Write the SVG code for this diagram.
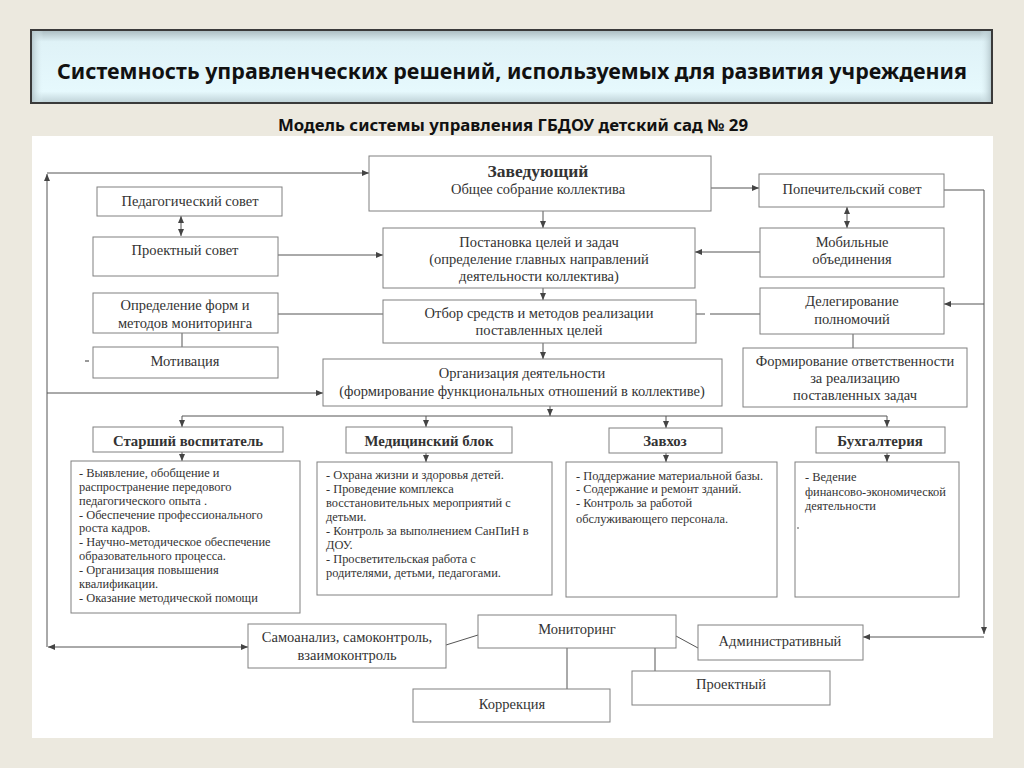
<svg xmlns="http://www.w3.org/2000/svg" width="1024" height="768" viewBox="0 0 1024 768">
<defs>
<marker id="ah" markerUnits="userSpaceOnUse" markerWidth="8" markerHeight="7" refX="7" refY="3" orient="auto-start-reverse"><path d="M0,0 L7,3 L0,6 z" fill="#444"/></marker>
<linearGradient id="bv" x1="0" y1="0" x2="0" y2="1"><stop offset="0" stop-color="#aebfc4"/><stop offset="0.15" stop-color="#dff2f7"/><stop offset="0.85" stop-color="#e6f9fd"/><stop offset="1" stop-color="#c2d5da"/></linearGradient>
<linearGradient id="bh" x1="0" y1="0" x2="1" y2="0"><stop offset="0" stop-color="#b4c6cb" stop-opacity="0.9"/><stop offset="0.012" stop-color="#e6f9fd" stop-opacity="0"/><stop offset="0.988" stop-color="#e6f9fd" stop-opacity="0"/><stop offset="1" stop-color="#b4c6cb" stop-opacity="0.9"/></linearGradient>
<style>
.b{fill:#fff;stroke:#808080;stroke-width:1}
.t{font-family:"Liberation Serif","Times New Roman",serif;font-size:14.5px;fill:#333;text-anchor:middle}
.tb{font-family:"Liberation Serif","Times New Roman",serif;font-size:14.8px;font-weight:bold;fill:#333;text-anchor:middle}
.c{font-family:"Liberation Serif","Times New Roman",serif;font-size:12.4px;fill:#333}
.l{fill:none;stroke:#555;stroke-width:1}
.a{fill:none;stroke:#555;stroke-width:1;marker-end:url(#ah)}
.d{fill:none;stroke:#555;stroke-width:1;marker-start:url(#ah);marker-end:url(#ah)}
</style>
</defs>
<rect width="1024" height="768" fill="#ece9df"/>
<g id="title">
<rect x="30" y="29" width="963" height="75" fill="#3a3a3a"/>
<rect x="32" y="31" width="959" height="71" fill="url(#bv)"/>
<rect x="32" y="31" width="959" height="71" fill="url(#bh)"/>
<text x="512" y="79" font-family="'Noto Sans','Open Sans',sans-serif" font-size="21" font-weight="bold" fill="#111" text-anchor="middle" textLength="910" lengthAdjust="spacingAndGlyphs">Системность управленческих решений, используемых  для развития учреждения</text>
</g>
<text id="subtitle" x="513" y="131" font-family="'Noto Sans','Open Sans',sans-serif" font-size="16" font-weight="bold" fill="#111" text-anchor="middle" textLength="470" lengthAdjust="spacingAndGlyphs">Модель системы управления ГБДОУ детский сад № 29</text>
<rect x="32" y="136" width="961" height="602" fill="#fff"/>

<g id="connectors">
<path class="a" d="M47,647 V174"/>
<path class="a" d="M47,173 H369"/>
<path class="a" d="M47,393 H323"/>
<path class="d" d="M48,647 H248"/>
<path class="a" d="M711,188 H759"/>
<path class="a" d="M944,190 H984 V634"/>
<path class="a" d="M984,637 H863"/>
<path class="a" d="M984,304 H944"/>
<path class="d" d="M181,216 V236"/>
<path class="d" d="M847,207 V228"/>
<path class="a" d="M278,255 H383"/>
<path class="a" d="M760,252 H695"/>
<path class="l" d="M278,314 H383"/>
<path class="l" d="M696,314 H705 M710,314 H760"/>
<path class="l" d="M182,333 V347"/>
<path class="l" d="M853,334 V348"/>
<path class="a" d="M543,211 V228"/>
<path class="a" d="M543,288 V300"/>
<path class="a" d="M543,343 V359"/>
<path class="a" d="M550,406 V416"/>
<path class="l" d="M182,416 H887"/>
<path class="a" d="M182,416 V427"/>
<path class="a" d="M426,416 V427"/>
<path class="a" d="M666,416 V428"/>
<path class="a" d="M887,416 V427"/>
<path class="a" d="M182,452 V461"/>
<path class="a" d="M426,453 V462"/>
<path class="a" d="M666,453 V462"/>
<path class="a" d="M887,453 V462"/>
<path class="l" d="M446,645 L478,635"/>
<path class="l" d="M676,636 L698,648"/>
<path class="l" d="M567,648 V689"/>
<path class="l" d="M655,648 V671"/>
</g>

<g id="zav"><rect class="b" x="369" y="156" width="342" height="55"/>
<text class="tb" x="538" y="177" style="font-size:17.5px">Заведующий</text>
<text class="t" x="538" y="194">Общее собрание коллектива</text></g>

<g id="pedsovet"><rect class="b" x="97" y="187" width="185" height="29"/>
<text class="t" x="190" y="206">Педагогический совет</text></g>

<g id="proektsovet"><rect class="b" x="93" y="237" width="185" height="39"/>
<text class="t" x="185" y="255">Проектный совет</text></g>

<g id="postanovka"><rect class="b" x="383" y="228" width="312" height="60"/>
<text class="t" x="539" y="247">Постановка целей и задач</text>
<text class="t" x="539" y="264">(определение главных направлений</text>
<text class="t" x="539" y="281">деятельности коллектива)</text></g>

<g id="otbor"><rect class="b" x="383" y="300" width="313" height="43"/>
<text class="t" x="539" y="318">Отбор средств и методов реализации</text>
<text class="t" x="539" y="335">поставленных целей</text></g>

<g id="opredelenie"><rect class="b" x="93" y="293" width="185" height="40"/>
<text class="t" x="185" y="310">Определение форм и</text>
<text class="t" x="185" y="328">методов мониторинга</text></g>

<g id="motivaciya"><rect class="b" x="93" y="347" width="185" height="31"/>
<text class="t" x="185" y="366">Мотивация</text>
<rect x="85" y="360" width="4" height="2" fill="#999"/></g>

<g id="organizaciya"><rect class="b" x="323" y="359" width="399" height="47"/>
<text class="t" x="522" y="378">Организация деятельности</text>
<text class="t" x="522" y="396">(формирование функциональных отношений в коллективе)</text></g>

<g id="popechit"><rect class="b" x="759" y="174" width="185" height="33"/>
<text class="t" x="852" y="194">Попечительский  совет</text></g>

<g id="mobilnye"><rect class="b" x="760" y="228" width="184" height="49"/>
<text class="t" x="852" y="247">Мобильные</text>
<text class="t" x="852" y="264">объединения</text></g>

<g id="delegirovanie"><rect class="b" x="760" y="288" width="184" height="46"/>
<text class="t" x="852" y="306">Делегирование</text>
<text class="t" x="852" y="324">полномочий</text></g>

<g id="formirovanie"><rect class="b" x="743" y="348" width="224" height="59"/>
<text class="t" x="855" y="366">Формирование ответственности</text>
<text class="t" x="855" y="383">за реализацию</text>
<text class="t" x="855" y="400">поставленных задач</text></g>

<g id="starshiy"><rect class="b" x="93" y="427" width="190" height="25"/>
<text class="tb" x="188" y="446">Старший воспитатель</text>
<rect class="b" x="71" y="461" width="229" height="152"/>
<text class="c" x="79" y="477">- Выявление, обобщение и</text>
<text class="c" x="79" y="491">распространение передового</text>
<text class="c" x="79" y="505">педагогического опыта .</text>
<text class="c" x="79" y="519">- Обеспечение профессионального</text>
<text class="c" x="79" y="532">роста кадров.</text>
<text class="c" x="79" y="546">- Научно-методическое обеспечение</text>
<text class="c" x="79" y="560">образовательного процесса.</text>
<text class="c" x="79" y="574">- Организация повышения</text>
<text class="c" x="79" y="588">квалификации.</text>
<text class="c" x="79" y="602">- Оказание методической помощи</text></g>

<g id="med"><rect class="b" x="346" y="427" width="166" height="26"/>
<text class="tb" x="429" y="446">Медицинский блок</text>
<rect class="b" x="317" y="462" width="235" height="133"/>
<text class="c" x="326" y="479">- Охрана жизни и здоровья детей.</text>
<text class="c" x="326" y="493">- Проведение комплекса</text>
<text class="c" x="326" y="507">восстановительных мероприятий с</text>
<text class="c" x="326" y="521">детьми.</text>
<text class="c" x="326" y="535">- Контроль за выполнением СанПиН в</text>
<text class="c" x="326" y="549">ДОУ.</text>
<text class="c" x="326" y="563">- Просветительская работа с</text>
<text class="c" x="326" y="577">родителями, детьми, педагогами.</text></g>

<g id="zavhoz"><rect class="b" x="609" y="428" width="113" height="25"/>
<text class="tb" x="665" y="446">Завхоз</text>
<rect class="b" x="566" y="462" width="211" height="135"/>
<text class="c" x="576" y="480">- Поддержание материальной базы.</text>
<text class="c" x="576" y="493">- Содержание и ремонт зданий.</text>
<text class="c" x="576" y="507">- Контроль  за работой</text>
<text class="c" x="576" y="523">обслуживающего персонала.</text></g>

<g id="buh"><rect class="b" x="816" y="427" width="129" height="26"/>
<text class="tb" x="880" y="446">Бухгалтерия</text>
<rect class="b" x="795" y="462" width="164" height="135"/>
<text class="c" x="805" y="481">- Ведение</text>
<text class="c" x="805" y="496">финансово-экономической</text>
<text class="c" x="805" y="510">деятельности</text>
<rect x="797" y="527" width="2" height="2" fill="#aaa"/></g>

<g id="samoanaliz"><rect class="b" x="248" y="624" width="198" height="44"/>
<text class="t" x="347" y="642">Самоанализ, самоконтроль,</text>
<text class="t" x="347" y="660">взаимоконтроль</text></g>

<g id="monitoring"><rect class="b" x="478" y="615" width="198" height="33"/>
<text class="t" x="577" y="634">Мониторинг</text></g>

<g id="admin"><rect class="b" x="698" y="625" width="165" height="35"/>
<text class="t" x="780" y="646">Административный</text></g>

<g id="proektnyi"><rect class="b" x="632" y="671" width="198" height="34"/>
<text class="t" x="731" y="689">Проектный</text></g>

<g id="korrekciya"><rect class="b" x="413" y="689" width="197" height="33"/>
<text class="t" x="512" y="709">Коррекция</text></g>
</svg>
